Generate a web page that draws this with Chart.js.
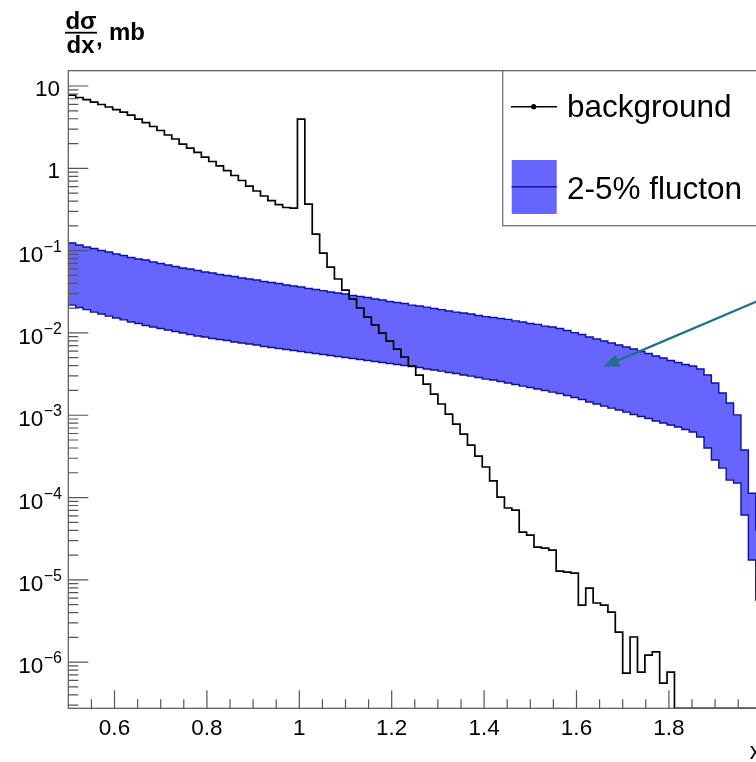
<!DOCTYPE html>
<html>
<head>
<meta charset="utf-8">
<script src="https://cdn.jsdelivr.net/npm/chart.js@4/dist/chart.umd.min.js"></script>
<style>
  html, body { margin: 0; padding: 0; background: #fff; overflow: hidden; width: 756px; height: 762px; }
  #wrap { position: absolute; left: 0; top: 0; width: 800px; height: 762px; }
  canvas { display: block; }
</style>
</head>
<body>
<div id="wrap"><canvas id="c" width="800" height="762"></canvas></div>
<script>
// Histogram binning: 0.016-wide bins starting at x = 0.5
const binLow = 0.5;
const binWidth = 0.016;

// dσ/dx of the background, mb per bin (empty bins are 0)
const background = [
  7.77, 7.25, 6.85, 6.39, 5.96, 5.56, 5.18, 4.83, 4.44, 3.97,
  3.60, 3.22, 2.88, 2.54, 2.27, 1.97, 1.76, 1.56, 1.37, 1.21,
  1.07, 0.940, 0.818, 0.711, 0.609, 0.530, 0.461, 0.406, 0.363, 0.334,
  0.329, 3.97, 0.368, 0.159, 0.0935, 0.0632, 0.0452, 0.0332, 0.0258, 0.0201,
  0.0156, 0.0125, 0.00997, 0.00797, 0.00637, 0.00510, 0.00396, 0.00308, 0.00239, 0.00181,
  0.00137, 0.00103, 0.000782, 0.000591, 0.000434, 0.000319, 0.000235, 0.000159, 0.000101, 7.46e-5,
  7.05e-5, 3.81e-5, 3.50e-5, 2.50e-5, 2.43e-5, 2.30e-5, 1.28e-5, 1.24e-5, 1.21e-5, 4.94e-6,
  7.95e-6, 5.23e-6, 4.94e-6, 4.06e-6, 2.32e-6, 7.37e-7, 2.02e-6, 7.58e-7, 1.22e-6, 1.33e-6,
  5.57e-7, 7.58e-7, 0, 0, 0, 0, 0, 0, 0, 0,
  0, 0, 0, 0
];

// Flucton signal band: 5% (upper edge) and 2% (lower edge)
const fluctonHigh = [
  0.1237, 0.1170, 0.1106, 0.1060, 0.1003, 0.0962, 0.0909, 0.0872, 0.0825, 0.0791,
  0.0769, 0.0727, 0.0697, 0.0668, 0.0641, 0.0615, 0.0598, 0.0573, 0.0549, 0.0534,
  0.0512, 0.0498, 0.0485, 0.0465, 0.0452, 0.0439, 0.0421, 0.0410, 0.0398, 0.0382,
  0.0371, 0.0361, 0.0346, 0.0337, 0.0327, 0.0314, 0.0305, 0.0297, 0.0285, 0.0277,
  0.0269, 0.0258, 0.0251, 0.0241, 0.0234, 0.0228, 0.0218, 0.0212, 0.0206, 0.0198,
  0.0192, 0.0185, 0.0179, 0.0175, 0.0170, 0.0163, 0.0158, 0.0154, 0.0150, 0.0146,
  0.0140, 0.0136, 0.0130, 0.0127, 0.0121, 0.0118, 0.0113, 0.0107, 0.0101, 0.00957,
  0.00892, 0.00843, 0.00797, 0.00754, 0.00713, 0.00674, 0.00637, 0.00594, 0.00562, 0.00524,
  0.00496, 0.00462, 0.00437, 0.00413, 0.00396, 0.00364, 0.00308, 0.00246, 0.00186, 0.00141,
  0.00101, 0.000378, 0.000113, 0.0000403
];
const fluctonLow = [
  0.0218, 0.0204, 0.0192, 0.0179, 0.0170, 0.0160, 0.0152, 0.0144, 0.0136, 0.0130,
  0.0123, 0.0118, 0.0113, 0.01085, 0.0104, 0.00998, 0.00957, 0.00917, 0.00892, 0.00855,
  0.00832, 0.00809, 0.00775, 0.00754, 0.00733, 0.00713, 0.00684, 0.00665, 0.00646, 0.00629,
  0.00611, 0.00594, 0.00578, 0.00562, 0.00547, 0.00532, 0.00517, 0.00503, 0.00489, 0.00475,
  0.00462, 0.00449, 0.00437, 0.00425, 0.00413, 0.00402, 0.00391, 0.00380, 0.00364, 0.00354,
  0.00344, 0.00330, 0.00321, 0.00308, 0.00299, 0.00287, 0.00275, 0.00268, 0.00257, 0.00246,
  0.00236, 0.00226, 0.00217, 0.00208, 0.00200, 0.00191, 0.00184, 0.00174, 0.00164, 0.00155,
  0.00145, 0.00137, 0.00129, 0.00122, 0.00116, 0.00109, 0.00102, 0.000965, 0.000912, 0.000850,
  0.000804, 0.000760, 0.000719, 0.000670, 0.000625, 0.000543, 0.000400, 0.000286, 0.000228, 0.000163,
  0.000150, 0.0000613, 0.0000174, 0.00000568
];

// Axis ranges and tick labels
const xMin = 0.5, xMax = 2.0;
const yMin = 2.75e-7, yMax = 15.35;
const xTickValues = [0.6, 0.8, 1.0, 1.2, 1.4, 1.6, 1.8, 2.0];
const xTickLabels = ['0.6', '0.8', '1', '1.2', '1.4', '1.6', '1.8', '2'];
const yTickValues = [10, 1, 0.1, 0.01, 1e-3, 1e-4, 1e-5, 1e-6];
const yTickBase = ['10', '1', '10', '10', '10', '10', '10', '10'];
const yTickExp = ['', '', '\u22121', '\u22122', '\u22123', '\u22124', '\u22125', '\u22126'];
const xTitle = 'x';
const legendLabels = ['background', '2-5% flucton'];

// Arrow annotation pointing into the band (data coordinates)
const arrowTail = { x: 2.0, y: 0.0255 };
const arrowHead = { x: 1.658, y: 0.00388 };

const FONT = '"Liberation Sans", Arial, Helvetica, sans-serif';
const BAND_FILL = 'rgb(102,102,255)';
const BAND_EDGE = '#10109a';
const ARROW = '#23708a';

// Step-histogram points: one point per bin low edge plus the final high edge.
// Empty bins sit on the floor of the log axis.
function histPoints(values) {
  const pts = values.map((v, i) => ({ x: binLow + i * binWidth, y: v > 0 ? v : yMin }));
  pts.push({ x: binLow + values.length * binWidth, y: pts[pts.length - 1].y });
  return pts;
}

const frameAndLabels = {
  id: 'frameAndLabels',
  afterDatasetsDraw(chart) {
    const { ctx, chartArea: a, scales: { x, y } } = chart;
    ctx.save();

    // arrow
    const x1 = x.getPixelForValue(arrowTail.x), y1 = y.getPixelForValue(arrowTail.y);
    const x2 = x.getPixelForValue(arrowHead.x), y2 = y.getPixelForValue(arrowHead.y);
    const ang = Math.atan2(y2 - y1, x2 - x1);
    const hl = 16, hw = 6.5;
    ctx.strokeStyle = ARROW; ctx.fillStyle = ARROW; ctx.lineWidth = 2.2;
    ctx.beginPath();
    ctx.moveTo(x1, y1);
    ctx.lineTo(x2 - hl * 0.7 * Math.cos(ang), y2 - hl * 0.7 * Math.sin(ang));
    ctx.stroke();
    ctx.beginPath();
    ctx.moveTo(x2, y2);
    ctx.lineTo(x2 - hl * Math.cos(ang) + hw * Math.sin(ang), y2 - hl * Math.sin(ang) - hw * Math.cos(ang));
    ctx.lineTo(x2 - hl * Math.cos(ang) - hw * Math.sin(ang), y2 - hl * Math.sin(ang) + hw * Math.cos(ang));
    ctx.closePath();
    ctx.fill();

    // frame
    ctx.strokeStyle = '#555';
    ctx.lineWidth = 1.2;
    ctx.strokeRect(a.left, a.top, a.right - a.left, a.bottom - a.top);

    // ticks, drawn inward
    ctx.beginPath();
    for (let k = 1; k <= 30; k++) {
      const v = xMin + 0.05 * k;
      if (v > xMax + 1e-9) break;
      const major = Math.abs(v * 5 - Math.round(v * 5)) < 1e-6;
      const px = x.getPixelForValue(v);
      ctx.moveTo(px, a.bottom);
      ctx.lineTo(px, a.bottom - (major ? 18 : 9));
    }
    for (let d = -7; d <= 1; d++) {
      for (let k = 1; k <= 9; k++) {
        const v = k * Math.pow(10, d);
        if (v < yMin || v > yMax) continue;
        const py = y.getPixelForValue(v);
        ctx.moveTo(a.left, py);
        ctx.lineTo(a.left + (k === 1 ? 20 : 10), py);
      }
    }
    ctx.stroke();

    // x tick labels
    ctx.fillStyle = '#000';
    ctx.font = '22.5px ' + FONT;
    ctx.textAlign = 'center';
    ctx.textBaseline = 'alphabetic';
    xTickValues.forEach((v, i) => {
      ctx.fillText(xTickLabels[i], x.getPixelForValue(v), 735);
    });

    // y tick labels (powers of ten with superscripts)
    ctx.textAlign = 'right';
    yTickValues.forEach((v, i) => {
      const py = y.getPixelForValue(v);
      if (yTickExp[i]) {
        ctx.font = '16px ' + FONT;
        const w = ctx.measureText(yTickExp[i]).width;
        ctx.fillText(yTickExp[i], 62, py + 1);
        ctx.font = '22.5px ' + FONT;
        ctx.fillText(yTickBase[i], 62 - w - 0.5, py + 11);
      } else {
        ctx.font = '22.5px ' + FONT;
        ctx.fillText(yTickBase[i], 60, py + 10);
      }
    });

    // axis titles
    ctx.font = '23px ' + FONT;
    ctx.textAlign = 'right';
    ctx.fillText(xTitle, a.right, 759);

    ctx.font = 'bold 24px ' + FONT;
    ctx.textAlign = 'center';
    ctx.fillText('d\u03c3', 81, 28.5);
    ctx.fillText('dx', 80.5, 52.5);
    ctx.fillRect(65, 31.8, 32, 1.8);
    ctx.textAlign = 'left';
    ctx.fillText(',', 96, 46);
    ctx.fillText('mb', 109, 40);

    // legend
    const lx = 502.7, ly = a.top, lw = 300, lh = 155;
    ctx.fillStyle = '#fff';
    ctx.fillRect(lx, ly, lw, lh);
    ctx.strokeStyle = '#666';
    ctx.lineWidth = 1.2;
    ctx.strokeRect(lx, ly, lw, lh);

    ctx.strokeStyle = '#000';
    ctx.lineWidth = 1.5;
    ctx.beginPath();
    ctx.moveTo(511, 106.7);
    ctx.lineTo(557, 106.7);
    ctx.stroke();
    ctx.fillStyle = '#000';
    ctx.beginPath();
    ctx.arc(533.7, 106.7, 2.6, 0, Math.PI * 2);
    ctx.fill();

    ctx.fillStyle = BAND_FILL;
    ctx.fillRect(511.7, 160, 45, 54);
    ctx.strokeStyle = BAND_EDGE;
    ctx.lineWidth = 1.6;
    ctx.beginPath();
    ctx.moveTo(511.7, 186.7);
    ctx.lineTo(556.7, 186.7);
    ctx.stroke();

    ctx.fillStyle = '#000';
    ctx.font = '31.5px ' + FONT;
    ctx.textAlign = 'left';
    ctx.fillText(legendLabels[0], 567, 117);
    ctx.fillText(legendLabels[1], 567, 199);

    ctx.restore();
  }
};

new Chart(document.getElementById('c').getContext('2d'), {
  type: 'line',
  data: {
    datasets: [
      {
        label: legendLabels[0],
        data: histPoints(background),
        borderColor: '#000',
        borderWidth: 1.7,
        pointRadius: 0,
        stepped: 'before',
        fill: false
      },
      {
        label: '2% flucton',
        data: histPoints(fluctonLow),
        borderColor: BAND_EDGE,
        borderWidth: 1.4,
        pointRadius: 0,
        stepped: 'before',
        fill: false
      },
      {
        label: legendLabels[1],
        data: histPoints(fluctonHigh),
        borderColor: BAND_EDGE,
        borderWidth: 1.4,
        backgroundColor: BAND_FILL,
        pointRadius: 0,
        stepped: 'before',
        fill: '-1'
      }
    ]
  },
  options: {
    responsive: false,
    animation: false,
    events: [],
    layout: { padding: { left: 68.3, right: 800 - 761.3, top: 70.7, bottom: 762 - 708.3 } },
    scales: {
      x: { type: 'linear', display: false, min: xMin, max: xMax },
      y: { type: 'logarithmic', display: false, min: yMin, max: yMax }
    },
    plugins: {
      legend: { display: false },
      tooltip: { enabled: false }
    }
  },
  plugins: [frameAndLabels]
});
</script>
</body>
</html>
